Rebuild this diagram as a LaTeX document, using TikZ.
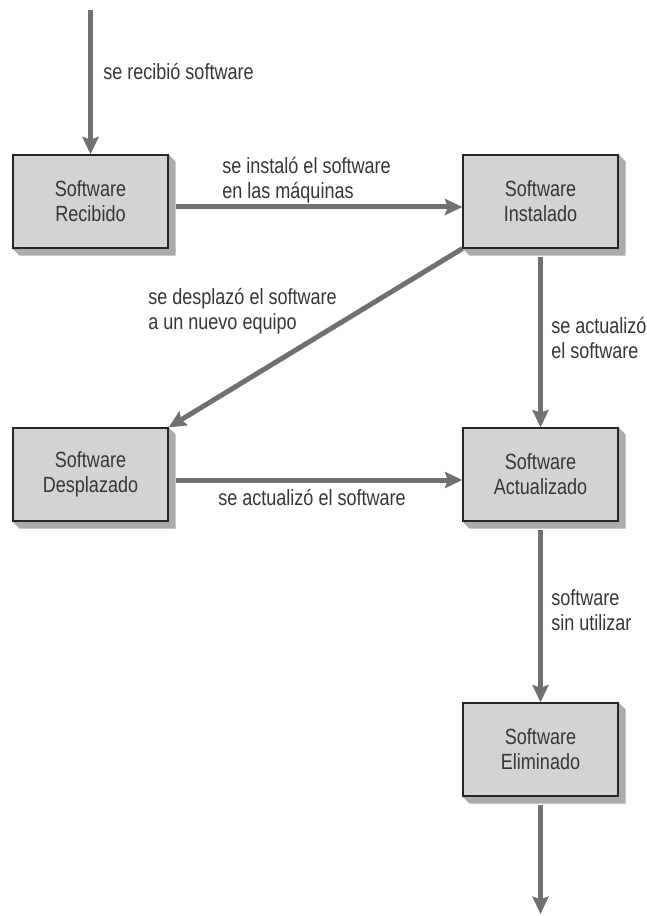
\documentclass[tikz,border=0pt]{standalone}
\usepackage{fontspec}
\setmainfont{Liberation Sans}[FakeStretch=0.82]
\usetikzlibrary{arrows.meta,backgrounds}

\definecolor{boxgray}{HTML}{D3D3D3}
\definecolor{shadegray}{HTML}{ABABAB}
\definecolor{flowgray}{HTML}{707070}
\definecolor{textgray}{HTML}{363636}

\begin{document}
\begin{tikzpicture}[
    x=0.75pt,
    y=-0.75pt,
    every node/.style={
        font=\fontsize{16.5pt}{18.75pt}\selectfont,
        text=textgray
    },
    state/.style={
        draw=black!85,
        line width=0.9pt,
        fill=boxgray,
        minimum width=116.25pt,
        minimum height=69.75pt,
        inner sep=0pt,
        align=center
    },
    extrude/.style={
        fill=shadegray
    },
    label/.style={
        anchor=west,
        inner sep=0pt,
        align=left
    },
    flow/.style={
        draw=flowgray,
        line width=3.75pt,
        -{Stealth[length=13pt,width=12pt,inset=2pt]}
    }
]

\useasboundingbox (0,0) rectangle (646,916);

% =================================================
% Estados del software
% =================================================

\node[state] (rec) at (90.5,201.5)  {Software\\Recibido};
\node[state] (ins) at (540.5,201.5) {Software\\Instalado};
\node[state] (des) at (90.5,474.5)  {Software\\Desplazado};
\node[state] (act) at (540.5,474.5) {Software\\Actualizado};
\node[state] (eli) at (540.5,749.5) {Software\\Eliminado};

\coordinate (start) at (90.5,10);
\coordinate (end)   at (540.5,914);

% =================================================
% Relieve de las cajas
% =================================================

\begin{scope}[on background layer]
\foreach \s in {rec,ins,des,act,eli}
    \fill[extrude] (\s.north east) -- ([shift={(7,7)}]\s.north east)
        -- ([shift={(7,7)}]\s.south east) -- ([shift={(7,7)}]\s.south west)
        -- (\s.south west) -- (\s.south east) -- cycle;
\end{scope}

% =================================================
% Transiciones
% =================================================

\draw[flow] (start) -- (rec);
\draw[flow] ([shift={(7,5.5)}]rec.east) -- ([shift={(0,5.5)}]ins.west);
\draw[flow] ([shift={(0,8)}]ins.south) -- (act.north);
\draw[flow] (ins.south west) -- (des.north east);
\draw[flow] ([shift={(7,5.5)}]des.east) -- ([shift={(0,5.5)}]act.west);
\draw[flow] ([shift={(0,8)}]act.south) -- (eli.north);
\draw[flow] ([shift={(0,8)}]eli.south) -- (end);

% =================================================
% Etiquetas de las transiciones
% =================================================

\node[label] (lrec) at (103,72)  {se recibió software};
\node[label] (lins) at (222,180) {se instaló el software\\en las máquinas};
\node[label] (ldes) at (148,311) {se desplazó el software\\a un nuevo equipo};
\node[label] (lact) at (551,338) {se actualizó\\el software};
\node[label] (lupd) at (218,498) {se actualizó el software};
\node[label] (lsin) at (551,610) {software\\sin utilizar};

\end{tikzpicture}
\end{document}
